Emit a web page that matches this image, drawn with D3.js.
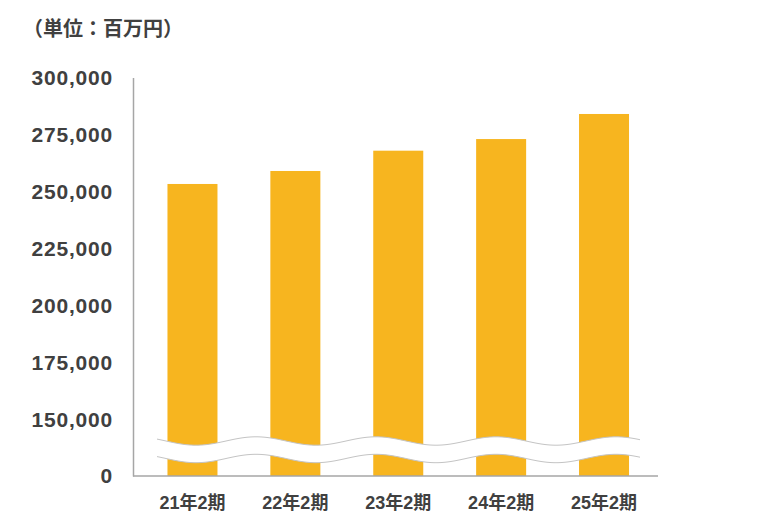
<!DOCTYPE html>
<html>
<head>
<meta charset="utf-8">
<script src="https://cdn.jsdelivr.net/npm/d3@7/dist/d3.min.js"></script>
<style>
  html, body { margin: 0; padding: 0; background: #fff; }
  svg { display: block; }
</style>
</head>
<body>
<div id="chart"></div>
<script>
const categories = ["21年2期", "22年2期", "23年2期", "24年2期", "25年2期"];
const values = [253300, 259000, 267900, 273000, 284000];
const yTickValues = [0, 150000, 175000, 200000, 225000, 250000, 275000, 300000];
const unitLabel = "（単位：百万円）";

const W = 758, H = 530;
const svg = d3.select("#chart").append("svg").attr("width", W).attr("height", H);

// broken axis: 0 sits one step below 150,000
const y = d3.scaleLinear().domain([0, 150000, 300000]).range([476, 419.5, 77.5]);
const x = d3.scaleBand().domain(categories).range([133, 663.5])
  .paddingInner(0.514).paddingOuter(0.335);

const barColor = "#F7B51F";
const textColor = "#404040";
const axisColor = "#a6a6a6";

// bars
svg.append("g").selectAll("rect").data(values).join("rect")
  .attr("x", (d, i) => x(categories[i]))
  .attr("width", x.bandwidth())
  .attr("y", d => y(d))
  .attr("height", d => y(0) - y(d))
  .attr("fill", barColor);

// wave break band
const waveX = d3.range(157, 640.5, 1);
const waveTop = xv => 441 + 4.2 * Math.cos(2 * Math.PI * (xv - 196) / 120);
const waveBot = xv => 458.5 + 4.2 * Math.cos(2 * Math.PI * (xv - 196) / 120);
svg.append("path")
  .datum(waveX)
  .attr("d", d3.area().x(d => d).y0(d => waveTop(d)).y1(d => waveBot(d)))
  .attr("fill", "#ffffff");
[waveTop, waveBot].forEach(f => {
  svg.append("path")
    .datum(waveX)
    .attr("d", d3.line().x(d => d).y(d => f(d)))
    .attr("fill", "none")
    .attr("stroke", "#c4c4c4")
    .attr("stroke-width", 1);
});

// y axis
const yAxis = svg.append("g").attr("transform", "translate(133,0)")
  .call(d3.axisLeft(y).tickValues(yTickValues).tickFormat(d3.format(","))
    .tickSize(0).tickPadding(20));
yAxis.select(".domain").attr("stroke", axisColor).attr("stroke-width", 1.5);
yAxis.selectAll("text")
  .attr("fill", textColor)
  .style("font-family", "'Liberation Sans', Arial, sans-serif")
  .style("font-weight", "bold")
  .style("font-size", "21px")
  .style("letter-spacing", "0.8px");

// x axis
const xAxis = svg.append("g").attr("transform", "translate(0,476)")
  .call(d3.axisBottom(x).tickSize(0).tickPadding(20));
xAxis.select(".domain").remove();
svg.append("line")
  .attr("x1", 133).attr("x2", 658).attr("y1", 476).attr("y2", 476)
  .attr("stroke", axisColor).attr("stroke-width", 1.5);
xAxis.selectAll("text")
  .attr("fill", textColor)
  .style("font-family", "'Liberation Sans', 'Noto Sans CJK JP', sans-serif")
  .style("font-weight", "bold")
  .style("font-size", "18px");

// unit label
svg.append("text")
  .attr("x", 23).attr("y", 36)
  .attr("fill", textColor)
  .style("font-family", "'Noto Sans CJK JP', sans-serif")
  .style("font-weight", "bold")
  .style("font-size", "20px")
  .text(unitLabel);
</script>
</body>
</html>
